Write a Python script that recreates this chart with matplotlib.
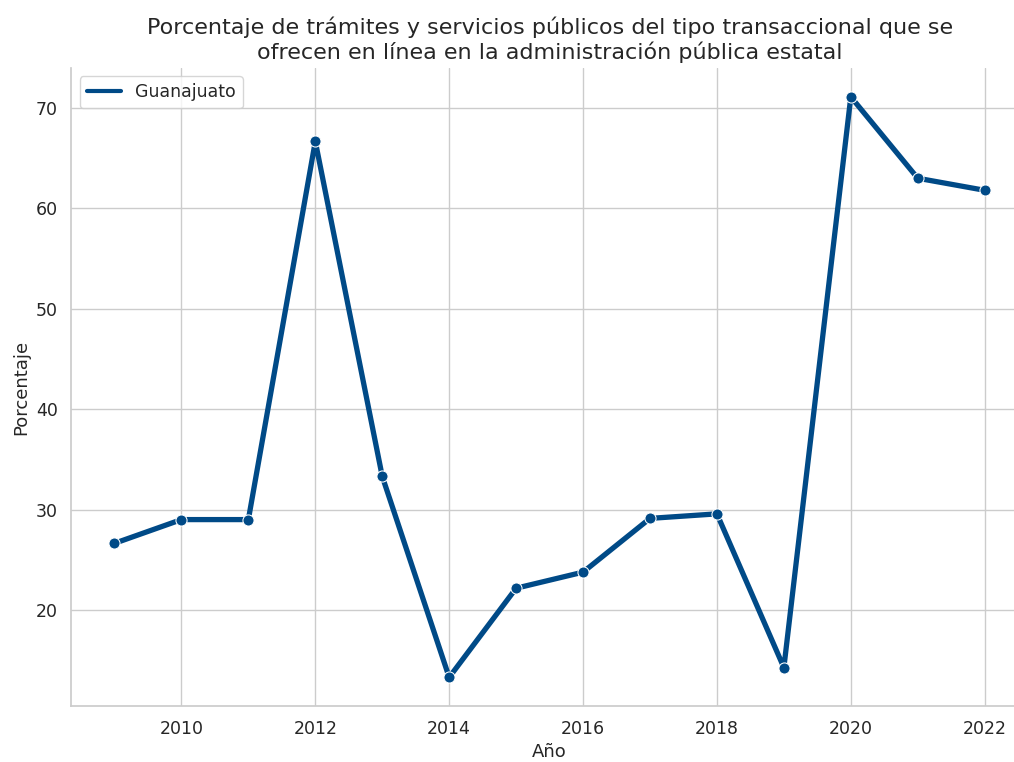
import matplotlib
matplotlib.use("Agg")
import matplotlib.pyplot as plt
from matplotlib.lines import Line2D
import seaborn as sns
import pandas as pd

# Datos
years = [2009, 2010, 2011, 2012, 2013, 2014, 2015, 2016, 2017, 2018, 2019, 2020, 2021, 2022]
values = [26.67, 29.03, 29.03, 66.67, 33.33, 13.33, 22.2, 23.8, 29.15, 29.6, 14.3, 71.1, 63.0, 61.8]
state = "Guanajuato"
color = "#004a87"

sns.set_theme(style="whitegrid")
plt.rcParams['font.family'] = ['DejaVu Sans']

df = pd.DataFrame({"Año": years, "Porcentaje": values})

fig, ax = plt.subplots(figsize=(10.14, 7.62), dpi=100)
sns.lineplot(data=df, x="Año", y="Porcentaje", marker="o", color=color,
             linewidth=3.8, markersize=8, ax=ax)

ax.set_title("Porcentaje de trámites y servicios públicos del tipo transaccional que se\n"
             "ofrecen en línea en la administración pública estatal", fontsize=16)
ax.set_xlabel("Año", fontsize=13)
ax.set_ylabel("Porcentaje", fontsize=13)
ax.tick_params(labelsize=12.5)
handle = Line2D([0], [0], color=color, linewidth=3)
ax.legend([handle], [state], loc="upper left", fontsize=12.5)
sns.despine()

# el original aparece recortado por la derecha
fig.subplots_adjust(left=0.070, right=1.014, bottom=0.073, top=0.911)
plt.savefig("out.png", dpi=100)
